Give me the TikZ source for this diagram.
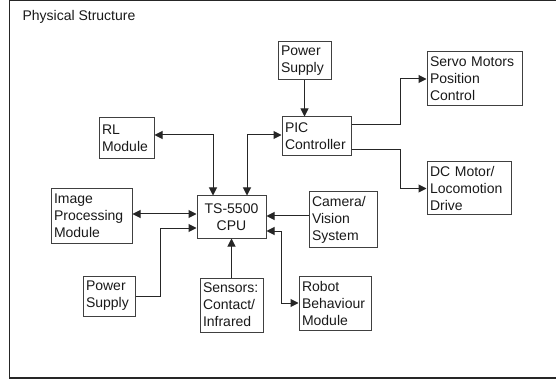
\documentclass[tikz,border=0pt]{standalone}
\usepackage{fontspec}
\setmainfont{Liberation Sans}
\usetikzlibrary{arrows.meta}
\begin{document}
\begin{tikzpicture}[x=1pt,y=-1pt,
  every node/.style={font=\fontsize{14}{17}\selectfont, text=black!90},
  box/.style={draw=black!75, line width=1pt, inner xsep=3pt, inner ysep=0pt, align=left},
  conn/.style={draw=black!85, line width=1pt},
  tip/.style={-{Triangle[length=8pt,width=8pt]}},
  biti/.style={{Triangle[length=8pt,width=8pt]}-{Triangle[length=8pt,width=8pt]}}]
\useasboundingbox (0,0) rectangle (556,379);
\draw[line width=1.2pt, black!85] (556,0.6) -- (9.5,0.6) -- (9.5,378) -- (556,378);
\node[anchor=west] (title) at (19,17) {Physical Structure};
\node[box, minimum width=55pt, minimum height=41pt, text width=49pt] (RL) at (126.5,138.5) {RL\\Module};
\node[box, minimum width=53pt, minimum height=38pt, text width=47pt] (PS1) at (304.5,61) {Power\\Supply};
\node[box, minimum width=69pt, minimum height=39pt, text width=63pt] (PIC) at (316.5,136.5) {PIC\\Controller};
\node[box, minimum width=95pt, minimum height=54pt, text width=89pt] (Servo) at (474.5,79) {Servo Motors\\Position\\Control};
\node[box, minimum width=84pt, minimum height=53pt, text width=78pt] (DC) at (469,188.5) {DC Motor/\\Locomotion\\Drive};
\node[box, minimum width=81pt, minimum height=54pt, text width=75pt] (IPM) at (91.5,216) {Image\\Processing\\Module};
\node[box, minimum width=69pt, minimum height=42pt, text width=63pt, align=center] (CPU) at (231.5,217) {TS-5500\\CPU};
\node[box, minimum width=52pt, minimum height=40pt, text width=46pt] (PS2) at (109,296) {Power\\Supply};
\node[box, minimum width=63pt, minimum height=54pt, text width=57pt] (Sens) at (231.5,305) {Sensors:\\Contact/\\Infrared};
\node[box, minimum width=68pt, minimum height=55pt, text width=62pt] (Cam) at (343,219.5) {Camera/\\Vision\\System};
\node[box, minimum width=72pt, minimum height=54pt, text width=66pt] (Robot) at (335,303) {Robot\\Behaviour\\Module};
% connectors
\draw[conn, biti] ([yshift=3.5pt]RL.east) -| ([xshift=-18.5pt]CPU.north);
\draw[conn, biti] ([xshift=15.5pt]CPU.north) |- ([yshift=1.5pt]PIC.west);
\draw[conn, tip] (PS1.south) -- (PS1.south |- PIC.north);
\draw[conn, tip] ([yshift=11.5pt]PIC.east) -- ++(49,0) |- (Servo.west);
\draw[conn, tip] ([yshift=-13.5pt]PIC.east) -- ++(49,0) |- (DC.west);
\draw[conn, biti] ([yshift=2pt]IPM.east) -- ([yshift=2pt]IPM.east -| CPU.west);
\draw[conn, tip] (PS2.east) -- ++(25,0) |- ([yshift=-11pt]CPU.west);
\draw[conn, tip] (Sens.north) -- (CPU.south);
\draw[conn, tip] ([yshift=3.5pt]Cam.west) -- ([yshift=3.5pt]Cam.west -| CPU.east);
\draw[conn, biti] (Robot.west) -- ++(-17,0) |- ([yshift=-14pt]CPU.east);
\end{tikzpicture}
\end{document}
